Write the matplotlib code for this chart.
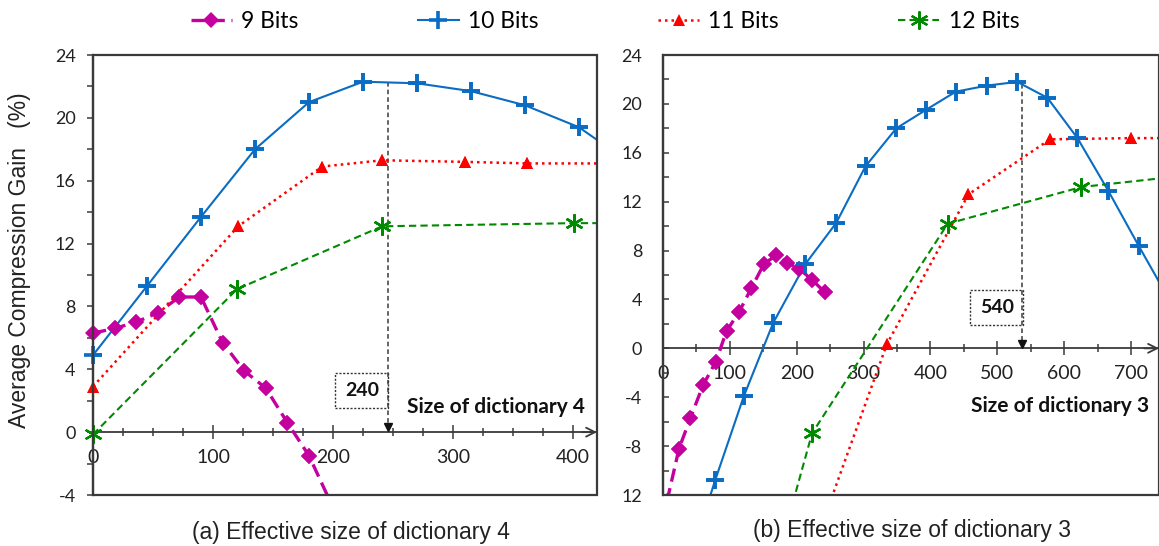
import numpy as np
import matplotlib
matplotlib.use("Agg")
import matplotlib.pyplot as plt
from matplotlib.patches import Rectangle


# data
# -------------------------------------------------------------------------------------
series_names = ["9 Bits", "10 Bits", "11 Bits", "12 Bits"]

# (a) effective size of dictionary 4
a_x9 = [0, 18, 36, 54, 72, 90, 108, 126, 144, 162, 180, 200]
a_y9 = [6.3, 6.6, 7.0, 7.6, 8.6, 8.6, 5.7, 3.9, 2.8, 0.6, -1.5, -4.8]
a_x10 = [0, 45, 90, 135, 180, 225, 270, 315, 360, 405, 450]
a_y10 = [4.9, 9.3, 13.7, 18.0, 21.0, 22.3, 22.2, 21.7, 20.8, 19.4, 17.0]
a_x11 = [0, 121, 191, 241, 310, 362, 430]
a_y11 = [2.9, 13.1, 16.9, 17.3, 17.2, 17.1, 17.1]
a_x12 = [0, 120, 241, 401, 480]
a_y12 = [-0.15, 9.1, 13.1, 13.3, 13.3]

# (b) effective size of dictionary 3
b_x9 = [6, 24, 41, 60, 79, 95, 114, 132, 151, 169, 186, 204, 223, 242]
b_y9 = [-12.5, -8.2, -5.7, -3.0, -1.1, 1.4, 3.0, 4.9, 6.9, 7.6, 7.0, 6.5, 5.6, 4.6]
b_x10 = [33, 78, 121, 165, 213, 259, 303, 349, 393, 438, 485, 530, 575, 620, 666, 712, 757]
b_y10 = [-18.5, -10.8, -3.9, 2.1, 6.9, 10.25, 14.9, 18.0, 19.5, 21.0, 21.5, 21.8,
         20.5, 17.2, 12.9, 8.35, 4.0]
b_x11 = [213, 335, 457, 579, 700, 820]
b_y11 = [-18.2, 0.35, 12.6, 17.1, 17.2, 17.2]
b_x12 = [20, 223, 426, 626, 826]
b_y12 = [-47.0, -6.95, 10.2, 13.2, 14.4]

# chosen dictionary sizes (annotations)
a_pick, a_pick_label = 246, "240"
b_pick, b_pick_label = 537, "540"
a_box = (202, 1.55, 44, 2.2)   # x, y, width, height in data units
b_box = (460, 1.9, 79, 2.9)


# styles
# -------------------------------------------------------------------------------------
styles = [
    dict(color="#C4009E", ls=(0, (4, 2)), lw=2.4, marker="D", ms=8, mew=0),
    dict(color="#0A6CC2", ls="-", lw=1.5, marker="+", ms=13, mew=2.6),
    dict(color="#FF0000", ls=(0, (1, 1.6)), lw=1.8, marker="^", ms=9, mew=0),
    dict(color="#008A00", ls=(0, (3.5, 2)), lw=1.5, marker=(6, 2, 0), ms=13, mew=1.6),
]
axis_col = "#3A3A3A"
num_font = "Lato"
txt_font = "Liberation Sans"

fig = plt.figure(figsize=(11.59, 5.46), dpi=100)
ax_a = fig.add_axes([93 / 1159, 51 / 546, 504 / 1159, 440 / 546])
ax_b = fig.add_axes([663 / 1159, 51 / 546, 496 / 1159, 440 / 546])


def draw_panel(ax, xs, ys, xlim, ylim, xminor, yticks, ylabels, tick_dir):
    ax.set_xlim(*xlim)
    ax.set_ylim(*ylim)
    lines = []
    for x, y, st in zip(xs, ys, styles):
        x = np.array(x, float)
        y = np.array(y, float)
        ln, = ax.plot(x, y, color=st["color"], ls=st["ls"], lw=st["lw"],
                      marker=st["marker"], ms=st["ms"], mew=st["mew"],
                      mec=st["color"], mfc=st["color"], zorder=3)
        lines.append(ln)
        # markers sitting on the box edge are not clipped in the reference
        m = (x >= xlim[0]) & (x <= xlim[1]) & (y >= ylim[0]) & (y <= ylim[1])
        ax.plot(x[m], y[m], ls="none", marker=st["marker"], ms=st["ms"], mew=st["mew"],
                mec=st["color"], mfc=st["color"], clip_on=False, zorder=4)

    # box around the plot
    for s in ax.spines.values():
        s.set_visible(False)
    ax.add_patch(Rectangle((0, 0), 1, 1, transform=ax.transAxes, fill=False,
                           ec=axis_col, lw=1.6, clip_on=False, zorder=5))

    # x axis sits on y = 0, with an open arrow head
    ax.spines["bottom"].set_visible(True)
    ax.spines["bottom"].set_position(("data", 0))
    ax.spines["bottom"].set_color(axis_col)
    ax.spines["bottom"].set_linewidth(1.3)
    ax.annotate("", xy=(1.0, 0), xycoords=("axes fraction", "data"),
                xytext=(0.97, 0), textcoords=("axes fraction", "data"),
                arrowprops=dict(arrowstyle="->", color=axis_col, lw=1.3,
                                mutation_scale=16, shrinkA=0, shrinkB=0),
                annotation_clip=False)
    ax.set_xticks(np.arange(0, xlim[1], 100))
    ax.set_xticks(np.arange(0, xlim[1], xminor), minor=True)
    ax.tick_params(axis="x", which="major", direction="inout", length=10, width=1.1,
                   color=axis_col, pad=7, labelsize=14)
    ax.tick_params(axis="x", which="minor", direction="inout", length=6, width=1.1,
                   color=axis_col)
    for t in ax.get_xticklabels():
        t.set_fontfamily(num_font)
        t.set_color("#222222")

    ax.spines["left"].set_visible(True)
    ax.spines["left"].set_color(axis_col)
    ax.spines["left"].set_linewidth(1.6)
    ax.set_yticks(yticks)
    ax.set_yticklabels(ylabels)
    ax.set_yticks(np.arange(ylim[0], ylim[1] + 1, 2), minor=True)
    ax.tick_params(axis="y", which="both", direction=tick_dir, length=4.5, width=1.1,
                   color=axis_col, labelsize=13,
                   pad=8 if tick_dir == "out" else 15)
    for t in ax.get_yticklabels():
        t.set_fontfamily(num_font)
        t.set_color("#222222")
    return lines


def mark_pick(ax, xs10, ys10, pick, label, box):
    top = np.interp(pick, xs10, ys10)
    ax.plot([pick, pick], [top, 0.5], ls=(0, (3, 2)), lw=1.1, color=axis_col, zorder=2)
    ax.plot([pick], [0.35], ls="none", marker="v", ms=6, color="#111111", zorder=6)
    ax.add_patch(Rectangle(box[:2], box[2], box[3], fill=False, ls=(0, (1.5, 1.2)),
                           ec="#333333", lw=1.0, zorder=2))
    ax.text(box[0] + box[2] / 2, box[1] + box[3] / 2, label, ha="center", va="center",
            fontsize=14, fontweight="bold", fontfamily=num_font, color="#111111")


# (a) panel
# -------------------------------------------------------------------------------------
lines = draw_panel(ax_a, [a_x9, a_x10, a_x11, a_x12], [a_y9, a_y10, a_y11, a_y12],
                   (0, 420), (-4, 24), 25, np.arange(-4, 25, 4),
                   [str(v) for v in np.arange(-4, 25, 4)], "out")
mark_pick(ax_a, a_x10, a_y10, a_pick, a_pick_label, a_box)
ax_a.text(410, 1.6, "Size of dictionary 4", ha="right", va="center", fontsize=15,
          fontweight="bold", fontfamily=num_font, color="#111111")

# (b) panel
# -------------------------------------------------------------------------------------
b_ticks = np.arange(-12, 25, 4)
b_labels = ["12"] + [str(v) for v in b_ticks[1:]]
draw_panel(ax_b, [b_x9, b_x10, b_x11, b_x12], [b_y9, b_y10, b_y11, b_y12],
           (0, 742), (-12, 24), 50, b_ticks, b_labels, "in")
mark_pick(ax_b, b_x10, b_y10, b_pick, b_pick_label, b_box)
ax_b.text(727, -4.75, "Size of dictionary 3", ha="right", va="center", fontsize=15,
          fontweight="bold", fontfamily=num_font, color="#111111")

# labels, captions, legend
# -------------------------------------------------------------------------------------
fig.text(20 / 1159, 1 - 260 / 546, "Average Compression Gain   (%)", rotation=90,
         ha="center", va="center", fontsize=16.5, fontfamily=txt_font, color="#222222")
fig.text(351 / 1159, 1 - 532 / 546, "(a) Effective size of dictionary 4", ha="center",
         va="center", fontsize=16.5, fontfamily=txt_font, color="#222222")
fig.text(912 / 1159, 1 - 531 / 546, "(b) Effective size of dictionary 3", ha="center",
         va="center", fontsize=16.5, fontfamily=txt_font, color="#222222")

leg = fig.legend(lines, series_names, loc="center", ncol=4, frameon=False,
                 bbox_to_anchor=(605 / 1159, 1 - 22 / 546),
                 handlelength=1.8, handletextpad=0.4, columnspacing=5.2,
                 prop=dict(family=num_font, size=16.5))

fig.savefig("out.png", dpi=100)
